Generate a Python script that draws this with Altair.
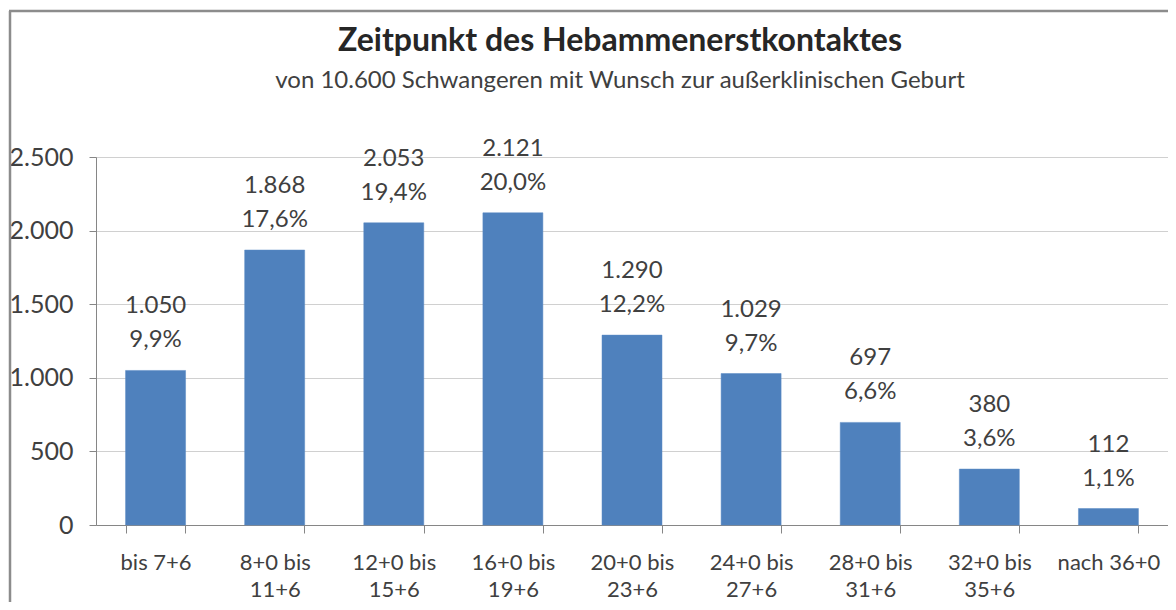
import altair as alt
import pandas as pd

categories = ["bis 7+6", "8+0 bis|11+6", "12+0 bis|15+6", "16+0 bis|19+6", "20+0 bis|23+6",
              "24+0 bis|27+6", "28+0 bis|31+6", "32+0 bis|35+6", "nach 36+0"]
counts = [1050, 1868, 2053, 2121, 1290, 1029, 697, 380, 112]
percents = ["9,9%", "17,6%", "19,4%", "20,0%", "12,2%", "9,7%", "6,6%", "3,6%", "1,1%"]
y_ticks = [0, 500, 1000, 1500, 2000, 2500]
title_text = "Zeitpunkt des Hebammenerstkontaktes"
subtitle_text = "von 10.600 Schwangeren mit Wunsch zur außerklinischen Geburt"

def de_num(v):
    return f"{v:,}".replace(",", ".")

df = pd.DataFrame({
    "cat": categories,
    "count": counts,
    "count_lbl": [de_num(v) for v in counts],
    "pct": percents,
})

FONT = "Lato"
TXT = "#404040"
W, H = 1072, 368

base = alt.Chart(df).encode(
    x=alt.X("cat:N", sort=categories, title=None,
            scale=alt.Scale(paddingInner=0.5, paddingOuter=0.25),
            axis=alt.Axis(labelExpr="split(datum.label, '|')", labelAngle=0,
                          labelFontSize=22, labelFont=FONT, labelColor=TXT,
                          labelLineHeight=27, labelPadding=19, labelBaseline="top",
                          tickBand="extent", tickSize=8, tickColor="#868686",
                          domainColor="#868686", domainWidth=1, grid=False)),
    y=alt.Y("count:Q", title=None,
            scale=alt.Scale(domain=[0, 2500], nice=False),
            axis=alt.Axis(values=y_ticks,
                          labelExpr="replace(format(datum.value, ','), ',', '.')",
                          labelFontSize=25, labelFont=FONT, labelColor=TXT,
                          labelPadding=16, tickSize=7, tickColor="#868686",
                          domainColor="#868686", gridColor="#d0d0d0", grid=True)),
)

bars = base.mark_bar(color="#4F81BD", size=60, stroke="#5b8ac4", strokeWidth=0.5)
lbl1 = base.mark_text(font=FONT, fontSize=24, color=TXT, baseline="middle", dy=-64).encode(text="count_lbl:N")
lbl2 = base.mark_text(font=FONT, fontSize=24, color=TXT, baseline="middle", dy=-30).encode(text="pct:N")

one = pd.DataFrame({"t": [title_text], "s": [subtitle_text]})
title = alt.Chart(one).mark_text(font=FONT, fontSize=32, fontWeight="bold", color="#262626",
                                 baseline="middle", align="center").encode(
    x=alt.value(524), y=alt.value(-116), text="t:N")
subtitle = alt.Chart(one).mark_text(font=FONT, fontSize=24, color=TXT,
                                    baseline="middle", align="center").encode(
    x=alt.value(524), y=alt.value(-76), text="s:N")

frame_left = alt.Chart(one).mark_rule(color="#8c8c8c", strokeWidth=2.5).encode(
    x=alt.value(-86), y=alt.value(-146), y2=alt.value(H + 90))
frame_top = alt.Chart(one).mark_rule(color="#8c8c8c", strokeWidth=2.5).encode(
    x=alt.value(-87), x2=alt.value(W + 20), y=alt.value(-146))

chart = alt.layer(bars, lbl1, lbl2, title, subtitle, frame_left, frame_top).properties(
    width=W, height=H,
    autosize=alt.AutoSizeParams(type="none"),
    padding={"left": 88, "top": 149, "right": 0, "bottom": 77},
).configure_view(stroke=None).configure(background="white")

chart.save("out.html", embed_options={"renderer": "svg", "actions": False})
